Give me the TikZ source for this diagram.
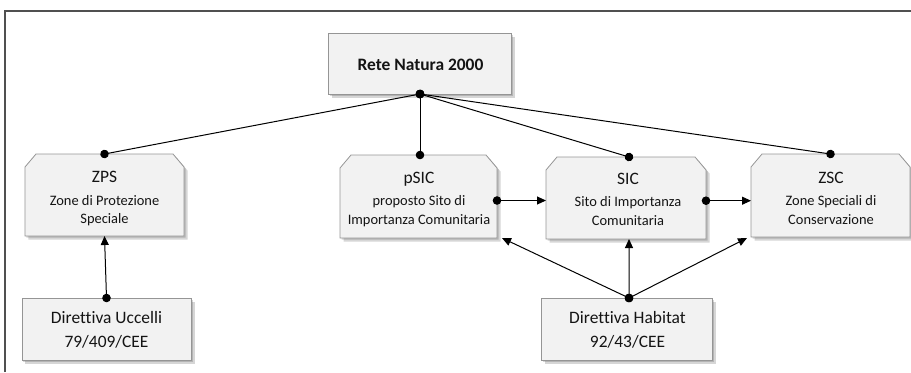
\documentclass[tikz,border=0pt]{standalone}
\usepackage{fontspec}
\setmainfont{Carlito}[Ligatures=NoCommon]
\usetikzlibrary{arrows.meta,calc}
\pgfdeclarelayer{bg}
\pgfsetlayers{bg,main}
\definecolor{boxfill}{HTML}{F2F2F2}
\definecolor{boxline}{HTML}{959595}
\definecolor{txt}{HTML}{141414}
\definecolor{frame}{HTML}{505050}
\newcommand\chbox[1]{%
 \fill[shad] ($(#1.south west)+(1.5,1.5)$) -- ($(#1.north west)+(1.5,14.5)$) -- ($(#1.north west)+(12.5,1.5)$) -- ($(#1.north east)+(-9.5,1.5)$) -- ($(#1.north east)+(1.5,14.5)$) -- ($(#1.south east)+(1.5,1.5)$) -- cycle;
 \fill[shad] ($(#1.south west)+(3.5,3.5)$) -- ($(#1.north west)+(3.5,16.5)$) -- ($(#1.north west)+(14.5,3.5)$) -- ($(#1.north east)+(-7.5,3.5)$) -- ($(#1.north east)+(3.5,16.5)$) -- ($(#1.south east)+(3.5,3.5)$) -- cycle;
 \draw[boxshape] (#1.south west) -- ($(#1.north west)+(0,13)$) -- ($(#1.north west)+(11,0)$) -- ($(#1.north east)+(-11,0)$) -- ($(#1.north east)+(0,13)$) -- (#1.south east) -- cycle;}
\newcommand\rbox[1]{%
 \fill[shad] ($(#1.north west)+(1.5,1.5)$) rectangle ($(#1.south east)+(1.5,1.5)$);
 \fill[shad] ($(#1.north west)+(3.5,3.5)$) rectangle ($(#1.south east)+(3.5,3.5)$);
 \draw[boxshape] (#1.north west) rectangle (#1.south east);}
\begin{document}
\begin{tikzpicture}[x=1bp,y=-1bp,
  box/.style={draw=none, inner sep=0, outer sep=0},
  hd/.style={anchor=base, inner sep=0, font=\fontsize{17.5}{21}\selectfont, text=txt},
  sm/.style={anchor=base, inner sep=0, font=\fontsize{14.5}{17}\selectfont, text=txt},
  link/.style={line width=1bp, black},
  dd/.style={link, {Circle[length=8.5bp]}-{Circle[length=8.5bp]}, shorten <=-4.25bp, shorten >=-4.25bp},
  da/.style={link, {Circle[length=8.5bp]}-{Triangle[length=9bp,width=8bp]}, shorten <=-4.25bp},
  boxshape/.style={fill=boxfill, draw=boxline, line width=0.8bp},
  shad/.style={fill=black, opacity=0.16}]
\useasboundingbox (0,0) rectangle (911,372);
\draw[frame, line width=1.3bp] (5,372) -- (5,11) -- (911,11);

% boxes
\node[box, minimum width=183bp, minimum height=61bp] (rete) at (420,63.5) {};
\node[box, minimum width=159bp, minimum height=82bp] (zps) at (104.5,195) {};
\node[box, minimum width=157bp, minimum height=83bp] (psic) at (418.5,196.5) {};
\node[box, minimum width=160bp, minimum height=82bp] (sic) at (626,198) {};
\node[box, minimum width=159bp, minimum height=83bp] (zsc) at (830.5,195.5) {};
\node[box, minimum width=169bp, minimum height=62bp] (ucc) at (106.5,329) {};
\node[box, minimum width=171bp, minimum height=62bp] (hab) at (626.5,329) {};

\begin{pgfonlayer}{bg}
\rbox{rete}
\chbox{zps}
\chbox{psic}
\chbox{sic}
\chbox{zsc}
\rbox{ucc}
\rbox{hab}
\end{pgfonlayer}

% texts
\node[hd, font=\fontsize{17.5}{21}\selectfont\bfseries] (t-rete) at (420.5,70.7) {Rete Natura 2000};
\node[hd] (t-zps1) at (104.5,182.7) {ZPS};
\node[sm] (t-zps2) at (104.5,205) {Zone di Protezione};
\node[sm] (t-zps3) at (104.5,223.5) {Speciale};
\node[hd] (t-psic1) at (419,183) {pSIC};
\node[sm] (t-psic2) at (419,205) {proposto Sito di};
\node[sm] (t-psic3) at (419,224.5) {Importanza Comunitaria};
\node[hd] (t-sic1) at (628,184) {SIC};
\node[sm] (t-sic2) at (628,206) {Sito di Importanza};
\node[sm] (t-sic3) at (628,225) {Comunitaria};
\node[hd] (t-zsc1) at (831,183.5) {ZSC};
\node[sm] (t-zsc2) at (831,205) {Zone Speciali di};
\node[sm] (t-zsc3) at (831,224) {Conservazione};
\node[hd] (t-ucc1) at (106.5,323) {Direttiva Uccelli};
\node[hd] (t-ucc2) at (106.5,347) {79/409/CEE};
\node[hd] (t-hab1) at (627.5,323) {Direttiva Habitat};
\node[hd] (t-hab2) at (627.5,347) {92/43/CEE};

% connector points
\coordinate (rdot) at (rete.south);
\coordinate (psictop) at (psic.north -| rdot);
\coordinate (sictop) at ($(sic.north)+(3,0)$);
\coordinate (sicbot) at ($(sic.south)+(3,0)$);
\coordinate (habtop) at ($(hab.north)+(2.5,0)$);
\coordinate (psicr) at ($(psic.east)+(0,4)$);
\coordinate (sicr) at ($(sic.east)+(0,2.7)$);

% connectors
\draw[dd] (rdot) -- (zps.north);
\draw[dd] (rdot) -- (psictop);
\draw[dd] (rdot) -- (sictop);
\draw[dd] (rdot) -- (zsc.north);
\draw[da] (psicr) -- (psicr -| sic.west);
\draw[da] (sicr) -- (sicr -| zsc.west);
\draw[da] (ucc.north) -- (zps.south);
\draw[da] (habtop) -- (sicbot);
\draw[da] (habtop) -- ($(psic.south east)+(5,0)$);
\draw[da] (habtop) -- ($(zsc.south west)+(-4,1)$);
\end{tikzpicture}
\end{document}
